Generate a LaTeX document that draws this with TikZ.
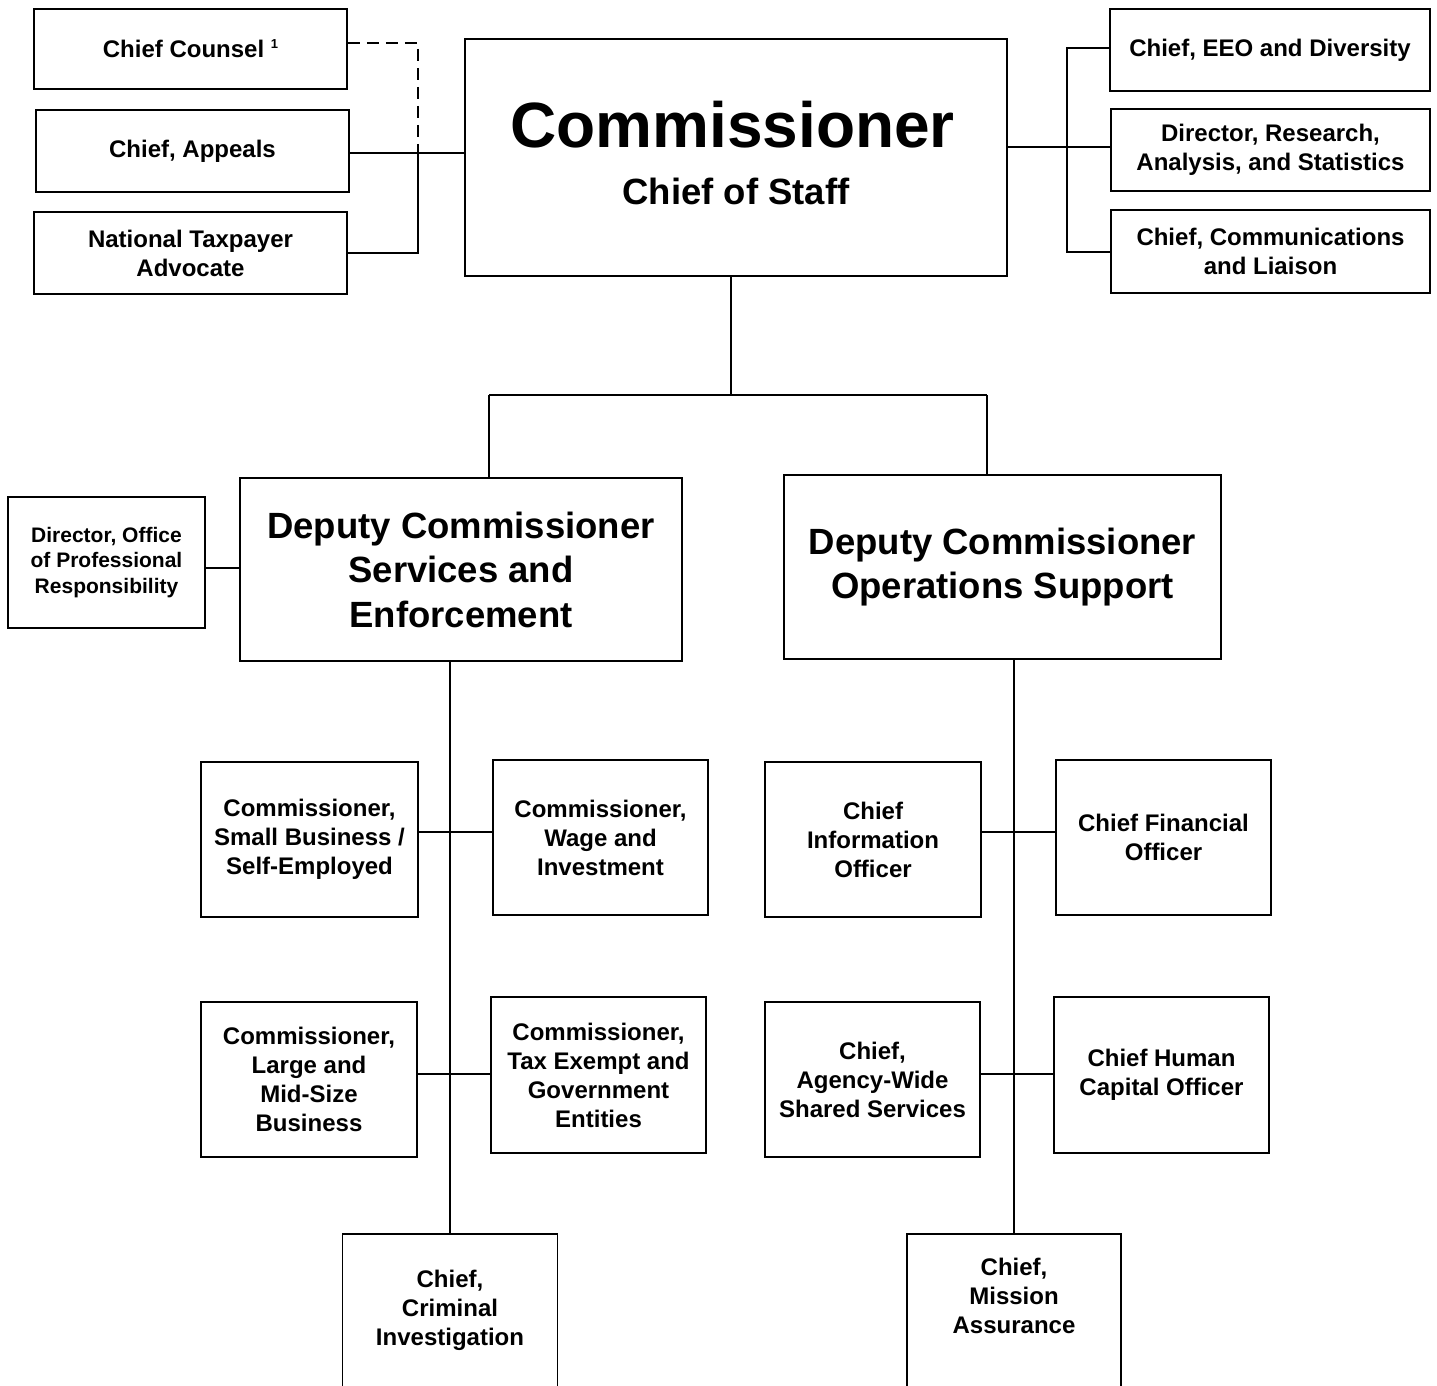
\documentclass[tikz,border=0pt]{standalone}
\usepackage{fontspec}
\setmainfont{Liberation Sans}
\begin{document}
\begin{tikzpicture}[x=1pt,y=-1pt,
  box/.style={draw, line width=1.8pt, inner sep=0pt, align=center, font=\bfseries\fontsize{24}{29}\selectfont},
  big/.style={box, font=\bfseries\fontsize{36.5}{44.5}\selectfont},
  small/.style={box, font=\bfseries\fontsize{21}{25.5}\selectfont},
  txt/.style={inner sep=0pt, align=center, font=\bfseries\fontsize{24}{29}\selectfont},
  conn/.style={line width=1.8pt}]
\useasboundingbox (0,0) rectangle (1437,1386);
\clip (0,0) rectangle (1437,1386);
\fill[white] (0,0) rectangle (1437,1386);
% top left
\node[box, minimum width=313, minimum height=80] (cc) at (190.5,49) {Chief Counsel {\fontsize{13}{13}\selectfont\raisebox{9pt}{1}}};
\node[box, minimum width=313, minimum height=82] (ap) at (192.5,151) {Chief, Appeals};
\node[box, minimum width=313, minimum height=82] (nta) at (190.5,253) {National Taxpayer\\Advocate};
% commissioner
\node[box, minimum width=542, minimum height=237] (com) at (736,157.5) {};
\node[inner sep=0pt, anchor=base, font=\bfseries\fontsize{64}{70}\selectfont] (comt) at (732.5,147) {Commissioner};
\node[inner sep=0pt, anchor=base, font=\bfseries\fontsize{36.5}{40}\selectfont] (cos) at (736,204) {Chief of Staff};
% top right
\node[box, minimum width=320, minimum height=82] (eeo) at (1270,50) {Chief, EEO and Diversity};
\node[box, minimum width=319, minimum height=82] (ras) at (1270.5,150) {Director, Research,\\Analysis, and Statistics};
\node[box, minimum width=319, minimum height=83] (cl) at (1270.5,251.5) {Chief, Communications\\and Liaison};
% deputies
\node[big, minimum width=442, minimum height=183] (dse) at (461,569.5) {Deputy Commissioner\\Services and\\Enforcement};
\node[big, minimum width=437, minimum height=184] (dos) at (1002.5,567) {Deputy Commissioner\\Operations Support};
\node[small, minimum width=197, minimum height=131] (opr) at (106.5,562.5) {Director, Office\\of Professional\\Responsibility};
% left branch
\node[box, minimum width=217, minimum height=155] (sbse) at (309.5,839.5) {Commissioner,\\Small Business /\\Self-Employed};
\node[box, minimum width=215, minimum height=155] (wi) at (600.5,837.5) {Commissioner,\\Wage and\\Investment};
\node[box, minimum width=216, minimum height=155] (lmsb) at (309,1079.5) {Commissioner,\\Large and\\Mid-Size\\Business};
\node[box, minimum width=215, minimum height=156] (tege) at (598.5,1075) {Commissioner,\\Tax Exempt and\\Government\\Entities};
\node[box, minimum width=215, minimum height=166] (ci) at (450,1317) {};
\node[txt] (cit) at (450,1310) {Chief,\\Criminal\\Investigation};
% right branch
\node[box, minimum width=216, minimum height=155] (cio) at (873,839.5) {Chief\\Information\\Officer};
\node[box, minimum width=215, minimum height=155] (cfo) at (1163.5,837.5) {Chief Financial\\Officer};
\node[box, minimum width=215, minimum height=155] (awss) at (872.5,1079.5) {Chief,\\Agency-Wide\\Shared Services};
\node[box, minimum width=215, minimum height=156] (chco) at (1161.5,1075) {Chief Human\\Capital Officer};
\node[box, minimum width=214, minimum height=166] (ma) at (1014,1317) {};
\node[txt] (mat) at (1014,1296) {Chief,\\Mission\\Assurance};
% connectors
\coordinate (j1) at (418,153);
\coordinate (j2) at (1067,147);
\coordinate (j3) at (731,395);
\coordinate (j3l) at (489,395);
\coordinate (j3r) at (987,395);
\coordinate (r1) at (0,832);
\coordinate (r2) at (0,1074);
\draw[conn] (ap.east |- j1) -- (com.west |- j1);
\draw[conn] (nta.east) -| (j1);
\draw[conn, dashed, dash pattern=on 12pt off 7pt] (cc.east |- 0,43) -| (j1);
\draw[conn] (com.east |- j2) -- (ras.west |- j2);
\draw[conn] (eeo.west |- 0,48) -| (j2) |- (cl.west |- 0,252);
\draw[conn] (com.south -| j3) -- (j3);
\draw[conn] (j3l) -- (j3r);
\draw[conn] (j3l) -- (j3l |- dse.north);
\draw[conn] (j3r) -- (j3r |- dos.north);
\draw[conn] (opr.east |- 0,568) -- (dse.west |- 0,568);
\draw[conn] (ci.north |- dse.south) -- (ci.north);
\draw[conn] (sbse.east |- r1) -- (wi.west |- r1);
\draw[conn] (lmsb.east |- r2) -- (tege.west |- r2);
\draw[conn] (ma.north |- dos.south) -- (ma.north);
\draw[conn] (cio.east |- r1) -- (cfo.west |- r1);
\draw[conn] (awss.east |- r2) -- (chco.west |- r2);
\end{tikzpicture}
\end{document}
